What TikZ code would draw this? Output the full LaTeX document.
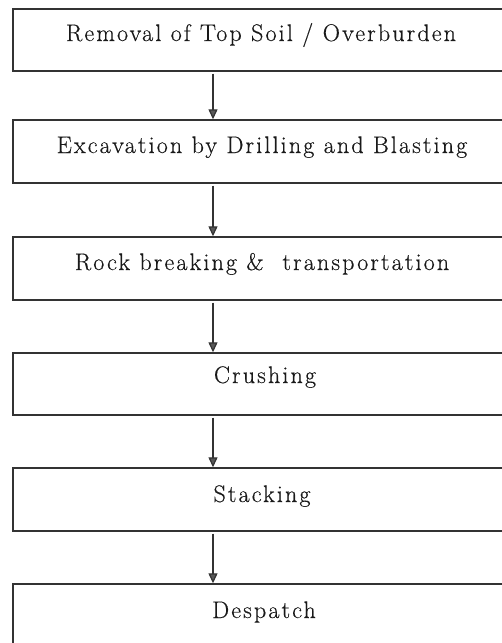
\documentclass[tikz,border=0pt]{standalone}
\usepackage{fontspec}
\setmainfont{Latin Modern Roman}[LetterSpace=9,FakeBold=0.4]
\usetikzlibrary{arrows.meta,calc}
\begin{document}
\begin{tikzpicture}[x=1pt,y=-1pt,
  stagebox/.style={draw=black!80, line width=1.4pt, rectangle, minimum width=497pt, inner sep=0pt},
  lbl/.style={anchor=base, inner sep=0pt, font=\fontsize{24}{27}\selectfont, text=black!90},
  flow/.style={draw=black!80, line width=1.2pt, shorten <=2pt, -{Triangle[width=9pt,length=10pt,fill=black!65]}}]
\useasboundingbox[fill=white] (0,0) rectangle (502,643);
\node[stagebox, minimum height=62pt] (b1) at (261.5,40) {};
\node[stagebox, minimum height=63pt] (b2) at (261.5,151.5) {};
\node[stagebox, minimum height=63pt] (b3) at (261.5,268.5) {};
\node[stagebox, minimum height=62pt] (b4) at (261.5,384) {};
\node[stagebox, minimum height=63pt] (b5) at (261.5,499.5) {};
\node[stagebox, minimum height=66pt] (b6) at (261.5,617) {};
\node[lbl] (t1) at (261,41) {Removal of Top Soil / Overburden};
\node[lbl] (t2) at (262,153) {Excavation by Drilling and Blasting};
\node[lbl] (t3) at (262,270) {Rock breaking \&\ \ transportation};
\node[lbl] (t4) at (265,383) {Crushing};
\node[lbl] (t5) at (262,502) {Stacking};
\node[lbl] (t6) at (264,618) {Despatch};
\coordinate (ax) at (213,0);
\draw[flow] (b1.south -| ax) -- (b2.north -| ax);
\draw[flow] (b2.south -| ax) -- (b3.north -| ax);
\draw[flow] (b3.south -| ax) -- (b4.north -| ax);
\draw[flow] (b4.south -| ax) -- (b5.north -| ax);
\draw[flow] (b5.south -| ax) -- (b6.north -| ax);
\end{tikzpicture}
\end{document}
